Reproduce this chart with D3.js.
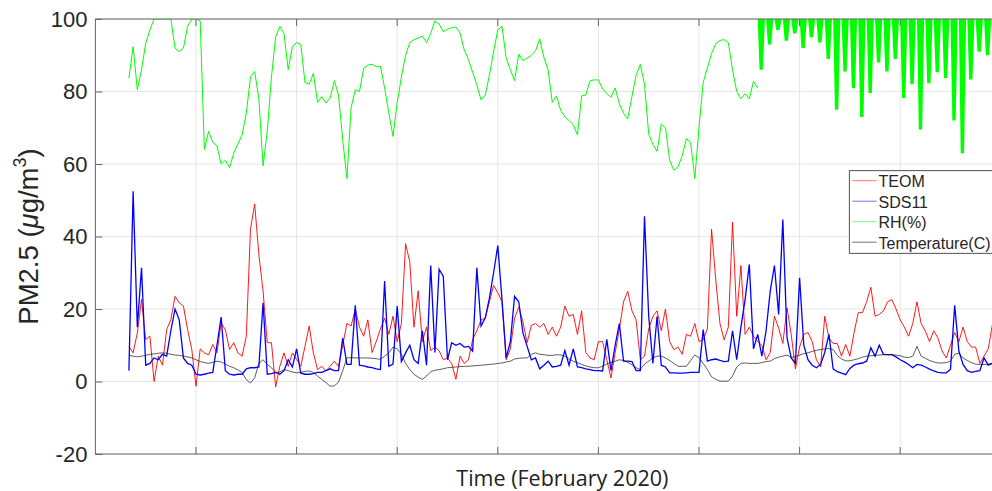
<!DOCTYPE html>
<html>
<head>
<meta charset="utf-8">
<title>PM2.5 February 2020</title>
<script src="https://cdn.jsdelivr.net/npm/d3@7"></script>
<style>
  body { margin: 0; background: #fff; }
</style>
</head>
<body>
<script>
// time axis in days, one sample every 3 hours
var t0 = 1.0, dt = 0.125;

var teom = [
  9.7, 7.9, 13.4, 22.6, 11.6, 12.5, 0, 7, 4.5, 14.3,
  17.1, 23.5, 21.7, 20.8, 14.3, 8.8, -1.3, 9, 7.9, 7.4,
  10.2, 7.9, 16.2, 14.3, 8.8, 10.7, 7.9, 7, 12.5, 42,
  49, 35, 25, 10.7, 10.7, -1.5, 4.2, 7.9, 4.2, 7.9,
  6.1, 4.2, 9.7, 15.3, 7.9, 3.3, 4.2, 2.9, 4.2, 5.6,
  4.2, 10, 16, 15.3, 20, 15, 12.5, 17, 8, 11,
  14.5, 17.5, 13, 18, 11, 16, 38, 33, 15, 25,
  11, 15, 8.5, 9.5, 8.5, 6, 6.5, 5, 0.6, 7,
  5, 6, 11.6, 14, 17, 17.5, 22, 26.5, 24.5, 22,
  6, 9, 17.5, 20.5, 16.5, 10.7, 15.5, 16, 15, 16,
  13, 15, 12.5, 15, 20.8, 18, 18.5, 13, 19.5, 8,
  6.5, 6, 11, 11, 6, 1, 7.9, 14.5, 22, 24.9,
  19.5, 17, 6, 7, 14.5, 18, 19.5, 14, 20, 11,
  8.8, 9.5, 7.5, 13, 12.5, 16, 11, 11.5, 14.5, 42,
  28, 16, 11.5, 15, 44, 18, 32, 13, 15, 12.5,
  11, 10, 6, 8, 18, 14.8, 10.5, 20.3, 13, 3.5,
  9.5, 13, 13.5, 11, 6, 4, 18, 12, 10.5, 10.5,
  7, 10.2, 7, 13.5, 19, 19, 22, 26, 18, 18.5,
  19.5, 22, 22.6, 20, 17, 15, 12.5, 16, 22, 16,
  13.9, 11, 14, 12, 8.4, 6.5, 10, 13.5, 11, 15,
  11, 9.5, 9.5, 5, 7, 9, 15.7
];

var sds11 = [
  3, 52.5, 15, 31.4, 4.5, 5, 6.5, 6, 7.5, 7,
  14, 20, 17, 6.5, 5, 4.5, 2, 1.8, 2, 2.3,
  2.5, 10, 17.8, 3, 2, 1.8, 2, 2, 3.5, 3.8,
  3.8, 4, 21.7, 2, 2.2, 2.5, 2, 3, 6, 4,
  9, 2.3, 2, 2, 2.2, 2.5, 2.5, 3, 3.5, 3,
  3, 12, 4.7, 4.7, 21, 4.5, 4.3, 4, 3.8, 3.5,
  3.3, 27.7, 4.2, 4.8, 20.8, 5.5, 7.9, 10, 6, 5,
  14, 4.5, 32, 8, 31, 29, 6, 10.7, 10, 10.5,
  9.5, 9.7, 8.4, 31.4, 15.3, 17.5, 23, 30, 37.5, 22.6,
  6.5, 11, 23.5, 22, 13.4, 9.7, 6, 6.5, 3.5, 4.5,
  5.6, 4, 4.2, 4.5, 8.5, 4.5, 9, 4, 3.8, 3.5,
  3.3, 3, 3, 2.9, 11.6, 3, 10, 16, 5.6, 5.6,
  5.5, 3, 3, 45.6, 18, 5, 18, 4.5, 4, 2.4,
  2.4, 2.3, 2.3, 2.4, 2.5, 2.5, 2.5, 14.3, 5.6, 6,
  6.2, 5.8, 5.5, 5.6, 14, 6, 15, 22.6, 32.3, 9,
  13, 7, 14, 25, 32, 18.5, 44.7, 12, 6.5, 5,
  28.6, 10, 6, 4.5, 3.8, 4.7, 8, 13, 3.5, 2.7,
  2.3, 1.9, 3.6, 4.5, 4.9, 5.1, 5.6, 9.3, 7, 10,
  7.5, 7.4, 7.4, 6.8, 6, 5.4, 4.7, 3.8, 4.7, 4.5,
  4, 3.4, 2.9, 2.5, 2.4, 2.4, 3.4, 21, 8.4, 4.7,
  3, 2.5, 2.8, 3, 6.5, 4.5, 5
];

var temperature = [
  7.2, 7, 6.8, 7, 7.2, 7.5, 7.6, 7.8, 7.9, 7.8,
  7.5, 7.3, 7.2, 7, 6.8, 6.5, 6, 5.5, 5.2, 5,
  5.3, 5.6, 5.4, 4.8, 4.2, 3.8, 3.2, 2.5, 0.5, -0.4,
  1, 5, 6, 4.7, 3.8, 2.5, 2.6, 3.3, 3, 2.6,
  2.4, 2.5, 2.8, 2.9, 2.5, 1.5, 0.6, -0.3, -1.3, -1.2,
  -0.2, 3, 6.5, 6.6, 6.5, 6.5, 6.5, 6.5, 6.4, 6.3,
  6.1, 7, 7.9, 9.5, 9, 7.5, 5, 3.3, 2, 1.2,
  0.6, 1.5, 2.7, 3.1, 3.3, 3.5, 3.8, 3.9, 4, 4.1,
  4.2, 4.2, 4.3, 4.4, 4.5, 4.6, 4.7, 4.8, 5, 5.1,
  5.4, 5.6, 6.2, 6.4, 6.5, 6.5, 7.5, 7.9, 7.5, 7.4,
  7.2, 7.2, 7.4, 7.3, 7, 6.2, 5.6, 5.2, 4.7, 4.3,
  4, 3.8, 3.8, 4.2, 4.8, 5.3, 5.6, 6, 5.8, 5.3,
  4.6, 3.8, 3.3, 4.8, 5.6, 6.5, 7, 7, 6.5, 5.8,
  5, 4.2, 4.2, 4.2, 5.8, 7.3, 6.6, 5, 3.3, 1.3,
  0.6, 0.1, 0.1, 0.1, 1.5, 4, 5, 5.1, 5, 5,
  5, 5.2, 5.5, 5.6, 6.3, 6.7, 7, 7.3, 6.6, 6.9,
  7.3, 7.7, 7.9, 8.3, 8.6, 8.8, 9, 9.1, 8.8, 7.2,
  6.2, 5.7, 5.7, 6, 6.3, 6.7, 7, 7.1, 7.2, 7.3,
  7.4, 7.4, 7.4, 7.3, 7.1, 6.7, 6.6, 7, 9.7, 7,
  6.4, 5.8, 5.4, 5.1, 5.1, 5.2, 5.6, 7.5, 7.8, 6.5,
  5.8, 5.2, 4.8, 4.7, 4.7, 4.8, 5
];

var rh = [
  83.7, 92.4, 80.5, 86, 93.3, 97, 100, 100, 100, 100,
  100, 92, 91, 92, 98, 100, 100, 99.5, 64, 69,
  66, 65, 60, 61, 59, 63, 65.5, 68, 74, 84,
  85.5, 78, 59.5, 69, 84, 95, 98, 96, 86, 92.5,
  93.5, 93, 82.5, 82, 85, 77, 78.6, 76.8, 78.2, 83,
  79, 66.7, 56, 75.5, 80.5, 80, 86.4, 87.3, 87.5, 86.8,
  87, 81, 74, 67.6, 77, 84, 90, 93.5, 94.3, 94.7,
  95.3, 93.5, 96, 99.5, 98.6, 96.5, 97.2, 97.6, 97.8, 96.1,
  91.5, 88.8, 85.3, 81.8, 77.7, 79, 84.5, 91, 97, 98,
  89.2, 86, 83, 90.3, 88.5, 89.2, 90, 91.2, 94.5, 89.4,
  86, 77, 78.8, 74.8, 73, 72, 70.9, 68, 78.8, 79,
  83, 83.2, 83.2, 80.7, 79.4, 78.4, 81, 76.6, 74, 72.5,
  78.6, 84.5, 87.5, 82, 68.3, 65.4, 63.5, 71, 70, 61,
  58.3, 59.2, 62.3, 67, 66, 56, 70, 82.5, 86.5, 90.5,
  93.2, 94.1, 94.3, 93.5, 86, 80, 78, 79.4, 78, 82.8,
  81
];

// end of the record: RH swings fast between 100 and these lows (every 6 h)
var rhBurstT0 = 19.75, rhBurstDt = 0.25;
var rhBurstLow = [
  86, 93, 97, 94, 96, 92, 95, 93.5, 89, 75,
  85.5, 81, 73, 79.6, 88, 85.5, 89, 78.2, 82, 69.5,
  82.3, 85.3, 83.7, 72, 63, 83.3, 91, 90
];

var yTicks = [-20, 0, 20, 40, 60, 80, 100];
var xGrid = [3, 6, 9, 12, 15, 18, 21, 24, 27];
var legendNames = ["TEOM", "SDS11", "RH(%)", "Temperature(C)"];
var legendColors = ["#ff0000", "#0000ff", "#00ff00", "#000000"];

var width = 992, height = 491;
var pLeft = 95.4, pTop = 19, pRight = 1029.3, pBottom = 454;

var svg = d3.select("body").append("svg")
  .attr("width", width)
  .attr("height", height)
  .style("display", "block")
  .style("font-family", "'Liberation Sans', Arial, sans-serif");

var x = d3.scaleLinear().domain([0, 27.85]).range([pLeft, pRight]);
var y = d3.scaleLinear().domain([-20, 100]).range([pBottom, pTop]);

svg.append("defs").append("clipPath").attr("id", "plot")
  .append("rect")
  .attr("x", pLeft).attr("y", pTop)
  .attr("width", pRight - pLeft).attr("height", pBottom - pTop);

// grid
var grid = svg.append("g").attr("stroke", "#e6e6e6").attr("stroke-width", 1);
grid.selectAll("line.v").data(xGrid).enter().append("line")
  .attr("x1", function(d){ return x(d); }).attr("x2", function(d){ return x(d); })
  .attr("y1", pTop).attr("y2", pBottom);
grid.selectAll("line.h").data(yTicks).enter().append("line")
  .attr("x1", pLeft).attr("x2", pRight)
  .attr("y1", function(d){ return y(d); }).attr("y2", function(d){ return y(d); });

var plot = svg.append("g").attr("clip-path", "url(#plot)");

function series(values, start, step) {
  return d3.line()
    .x(function(d, i){ return x(start + i * step); })
    .y(function(d){ return y(d); })(values);
}

plot.append("path").attr("d", series(teom, t0, dt))
  .attr("fill", "none").attr("stroke", "#ff0000").attr("stroke-width", 0.9);
plot.append("path").attr("d", series(sds11, t0, dt))
  .attr("fill", "none").attr("stroke", "#0000ff").attr("stroke-width", 1.3);
plot.append("path").attr("d", series(rh, t0, dt))
  .attr("fill", "none").attr("stroke", "#00ff00").attr("stroke-width", 1);
// each burst drawn as a wedge hanging from 100 % down to its low value
plot.selectAll("path.burst").data(rhBurstLow).enter().append("path")
  .attr("d", function(d, i){
    var t = rhBurstT0 + i * rhBurstDt;
    var xa = x(t), xb = x(t + rhBurstDt * 0.86);
    var xc = x(t + rhBurstDt * 0.62), xd = x(t + rhBurstDt * 0.22);
    return "M" + xa + "," + y(100) + "L" + xb + "," + y(100) +
      "L" + xc + "," + y(d) + "L" + xd + "," + y(d) + "Z";
  })
  .attr("fill", "#00ff00");
plot.append("path").attr("d", series(temperature, t0, dt))
  .attr("fill", "none").attr("stroke", "#111").attr("stroke-width", 0.8)
  .attr("stroke-opacity", 0.85);

// axes box and inward ticks
var yAxis = d3.axisLeft(y).tickValues(yTicks)
  .tickFormat(function(d){ return String(d); })
  .tickSizeInner(-7).tickSizeOuter(0).tickPadding(8);
var ya = svg.append("g").attr("transform", "translate(" + pLeft + ",0)").call(yAxis);
ya.select(".domain").remove();
ya.selectAll("line").attr("stroke", "#666");
ya.selectAll("text").attr("font-size", 22).attr("fill", "#262626")
  .attr("font-family", "'Liberation Sans', Arial, sans-serif");

var ticks = svg.append("g").attr("stroke", "#666");
ticks.selectAll("line.b").data(xGrid).enter().append("line")
  .attr("x1", function(d){ return x(d); }).attr("x2", function(d){ return x(d); })
  .attr("y1", pBottom).attr("y2", pBottom - 7);
ticks.selectAll("line.t").data(xGrid).enter().append("line")
  .attr("x1", function(d){ return x(d); }).attr("x2", function(d){ return x(d); })
  .attr("y1", pTop).attr("y2", pTop + 7);

svg.append("rect")
  .attr("x", pLeft).attr("y", pTop)
  .attr("width", pRight - pLeft).attr("height", pBottom - pTop)
  .attr("fill", "none").attr("stroke", "#666").attr("stroke-width", 1);

// axis titles
var yt = svg.append("text")
  .attr("transform", "translate(38," + ((pTop + pBottom) / 2) + ") rotate(-90)")
  .attr("text-anchor", "middle")
  .attr("font-size", 27.5)
  .attr("fill", "#262626");
yt.append("tspan").text("PM2.5 (");
yt.append("tspan").attr("font-style", "italic").text("\u03bc");
yt.append("tspan").text("g/m");
yt.append("tspan").attr("font-size", 18).attr("dy", -12).text("3");
yt.append("tspan").attr("dy", 12).text(")");

svg.append("text")
  .attr("x", (pLeft + pRight) / 2)
  .attr("y", 486)
  .attr("text-anchor", "middle")
  .attr("font-family", "'Open Sans', sans-serif")
  .attr("font-size", 21.5)
  .attr("fill", "#222")
  .text("Time (February 2020)");

// legend
var lg = svg.append("g");
lg.append("rect")
  .attr("x", 849.3).attr("y", 170.7)
  .attr("width", 200).attr("height", 82.6)
  .attr("fill", "#fff").attr("stroke", "#262626").attr("stroke-width", 0.8);
var rows = lg.selectAll("g.row").data(legendNames).enter().append("g")
  .attr("transform", function(d, i){ return "translate(0," + (180.7 + i * 20.5) + ")"; });
rows.append("line")
  .attr("x1", 852.3).attr("x2", 876.7)
  .attr("stroke", function(d, i){ return legendColors[i]; })
  .attr("stroke-width", 0.8)
  .attr("stroke-opacity", 0.7);
rows.append("text")
  .attr("x", 878.5).attr("y", 6.5)
  .attr("font-size", 16)
  .attr("fill", "#262626")
  .text(function(d){ return d; });
</script>
</body>
</html>
